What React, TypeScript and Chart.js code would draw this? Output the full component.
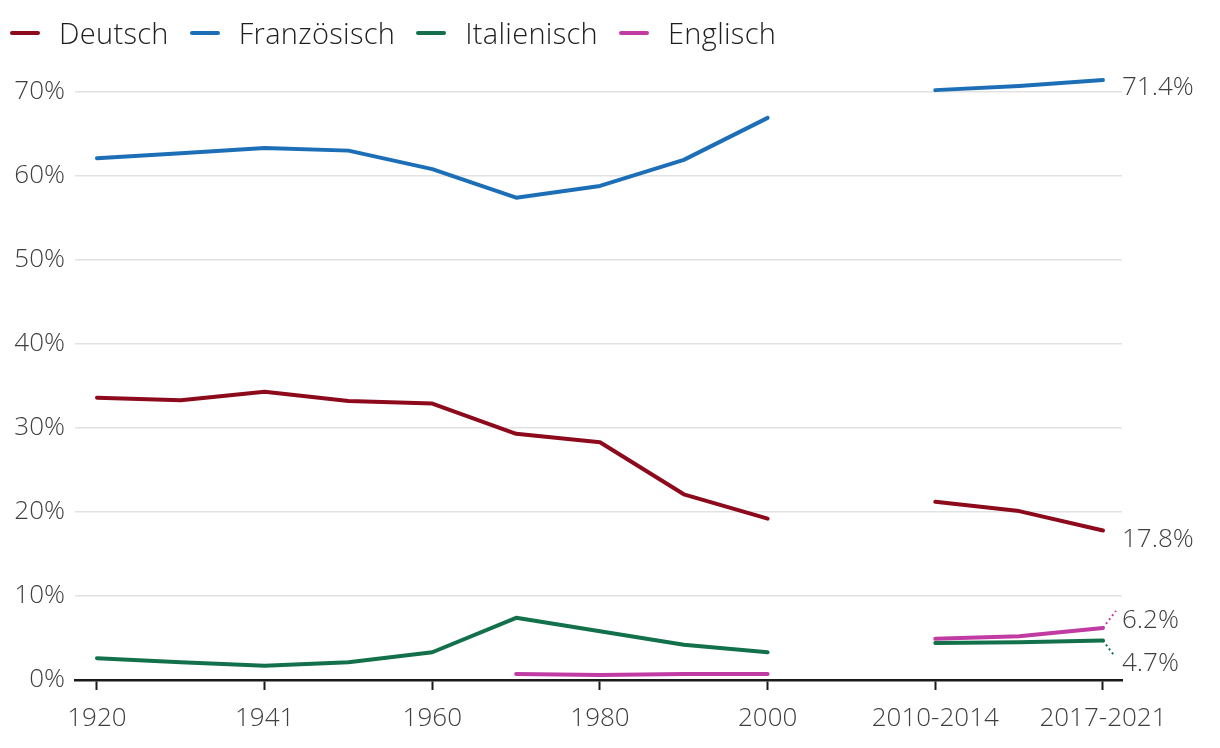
import React, { useEffect, useRef } from "react";
import { Chart, registerables } from "chart.js";

Chart.register(...registerables);

const categories = ["1920", "1930", "1941", "1950", "1960", "1970", "1980", "1990", "2000", "", "2010-2014", "2015", "2017-2021"];
const tickIndices = [0, 2, 4, 6, 8, 10, 12];
const yTicks = [0, 10, 20, 30, 40, 50, 60, 70];

const deutsch = [33.6, 33.3, 34.3, 33.2, 32.9, 29.3, 28.3, 22.1, 19.2, null, 21.2, 20.1, 17.8];
const franzoesisch = [62.1, 62.7, 63.3, 63.0, 60.8, 57.4, 58.8, 61.9, 66.9, null, 70.2, 70.7, 71.4];
const italienisch = [2.6, 2.1, 1.7, 2.1, 3.3, 7.4, 5.8, 4.2, 3.3, null, 4.4, 4.5, 4.7];
const englisch = [null, null, null, null, null, 0.7, 0.6, 0.7, 0.7, null, 4.9, 5.2, 6.2];

const seriesNames = ["Deutsch", "Französisch", "Italienisch", "Englisch"];
const seriesColors = ["#8c0a1c", "#1c6fb7", "#12714b", "#c03ca3"];
const seriesValues = [deutsch, franzoesisch, italienisch, englisch];

const FONT = "'Open Sans', 'Noto Sans', sans-serif";
const TEXT_COLOR = "#3f3f3f";

const endLabels = {
  id: "endLabels",
  afterDatasetsDraw(chart: any) {
    const ctx = chart.ctx;
    const xs = chart.scales.x;
    const ys = chart.scales.y;
    const last = categories.length - 1;
    const px = xs.getPixelForValue(last);
    ctx.save();
    ctx.font = `300 26px ${FONT}`;
    ctx.fillStyle = TEXT_COLOR;
    ctx.textBaseline = "middle";
    ctx.textAlign = "left";
    const tx = chart.chartArea.right;
    const yD = ys.getPixelForValue(deutsch[last] as number);
    ctx.fillText(`${(deutsch[last] as number).toFixed(1)}%`, tx, yD + 9);
    const yF = ys.getPixelForValue(franzoesisch[last] as number);
    ctx.fillText(`${(franzoesisch[last] as number).toFixed(1)}%`, tx, yF + 8);
    const yE = ys.getPixelForValue(englisch[last] as number);
    ctx.fillText(`${(englisch[last] as number).toFixed(1)}%`, tx, yE - 7);
    ctx.setLineDash([2, 3]);
    ctx.lineWidth = 2;
    ctx.strokeStyle = seriesColors[3];
    ctx.beginPath();
    ctx.moveTo(px, yE);
    ctx.lineTo(px + 13, yE - 17);
    ctx.stroke();
    const yI = ys.getPixelForValue(italienisch[last] as number);
    ctx.strokeStyle = seriesColors[2];
    ctx.beginPath();
    ctx.moveTo(px, yI);
    ctx.lineTo(px + 12, yI + 16);
    ctx.stroke();
    ctx.setLineDash([]);
    ctx.fillText(`${(italienisch[last] as number).toFixed(1)}%`, tx, yI + 23);
    ctx.restore();
  },
};

export default function App() {
  const canvasRef = useRef<HTMLCanvasElement | null>(null);

  useEffect(() => {
    const canvas = canvasRef.current;
    if (!canvas) return;
    const chart = new Chart(canvas, {
      type: "line",
      data: {
        datasets: seriesNames.map((name, i) => ({
          label: name,
          data: seriesValues[i].map((v, idx) => ({ x: idx, y: v })),
          borderColor: seriesColors[i],
          backgroundColor: seriesColors[i],
          borderWidth: 4,
          pointRadius: 0,
          borderCapStyle: "round",
          borderJoinStyle: "round",
          tension: 0,
          spanGaps: false,
        })),
      },
      options: {
        animation: false,
        responsive: false,
        maintainAspectRatio: false,
        layout: { padding: { top: 75, right: 98, bottom: 0, left: 0 } },
        plugins: {
          legend: { display: false },
          tooltip: { enabled: false },
        },
        scales: {
          x: {
            type: "linear",
            min: -0.262,
            max: 12.227,
            afterBuildTicks: (scale: any) => {
              scale.ticks = tickIndices.map((v) => ({ value: v }));
            },
            afterFit: (scale: any) => {
              scale.height = 68;
            },
            ticks: {
              autoSkip: false,
              maxRotation: 0,
              padding: 13,
              color: TEXT_COLOR,
              font: { family: FONT, size: 26, weight: "300" },
              callback: (v: any) => categories[Number(v)],
            },
            grid: {
              drawOnChartArea: false,
              drawTicks: true,
              tickLength: 10,
              tickWidth: 2,
              tickColor: "#1a1a1a",
            },
            border: { display: true, color: "#1a1a1a", width: 2.5 },
          },
          y: {
            type: "linear",
            min: 0,
            max: 72,
            afterBuildTicks: (scale: any) => {
              scale.ticks = yTicks.map((v) => ({ value: v }));
            },
            afterFit: (scale: any) => {
              scale.width = 75;
            },
            ticks: {
              padding: 10,
              color: TEXT_COLOR,
              font: { family: FONT, size: 26, weight: "300" },
              callback: (v: any) => `${v}%`,
            },
            grid: {
              color: "#e2e2e2",
              lineWidth: 1.5,
              drawTicks: false,
            },
            border: { display: false },
          },
        },
      },
      plugins: [endLabels],
    } as any);
    return () => chart.destroy();
  }, []);

  return (
    <div style={{ position: "fixed", left: 0, top: 0, width: 1220, height: 748, background: "#fff" }}>
      <canvas ref={canvasRef} width={1220} height={748} style={{ position: "absolute", left: 0, top: 0, width: 1220, height: 748 }} />
      <div
        style={{
          position: "absolute",
          left: 10,
          top: 13,
          display: "flex",
          alignItems: "center",
          gap: 21,
          fontFamily: FONT,
          fontSize: 29,
          fontWeight: 300,
          letterSpacing: "0.3px",
          lineHeight: "40px",
          color: "#1e1e1e",
        }}
      >
        {seriesNames.map((name, i) => (
          <div key={name} style={{ display: "flex", alignItems: "center" }}>
            <span style={{ display: "inline-block", width: 30, height: 4, borderRadius: 2, background: seriesColors[i], marginRight: 19 }} />
            <span>{name}</span>
          </div>
        ))}
      </div>
    </div>
  );
}
